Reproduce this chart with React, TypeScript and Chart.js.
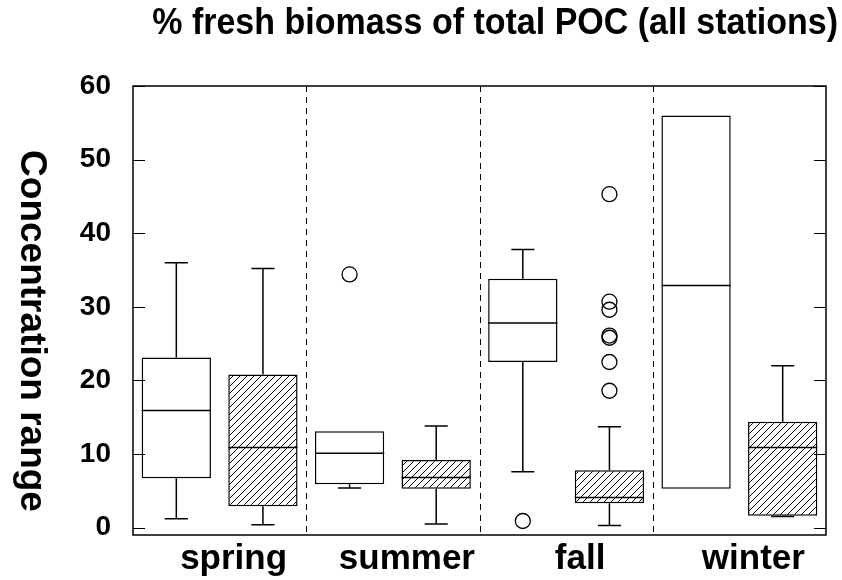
import React, { useEffect, useRef } from "react";
import { Chart, registerables } from "chart.js";

Chart.register(...registerables);

const categories = ["spring", "summer", "fall", "winter"];
const yTickValues = [0, 10, 20, 30, 40, 50, 60];

// open boxes
const openQ1 = [6.7, 5.9, 22.5, 5.3];
const openQ3 = [23.1, 13.1, 33.8, 56.0];
const openMedian = [15.9, 10.1, 27.8, 32.9];
const openLow: (number | null)[] = [1.2, 5.4, 7.6, null];
const openHigh: (number | null)[] = [36.0, null, 37.8, null];
const openOutliers: number[][] = [[], [34.4], [0.9], []];

// hatched boxes
const hatchQ1 = [2.9, 5.3, 3.3, 1.6];
const hatchQ3 = [20.8, 9.2, 7.8, 14.4];
const hatchMedian = [10.9, 6.8, 4.1, 10.9];
const hatchLow: (number | null)[] = [0.4, 0.5, 0.3, 1.5];
const hatchHigh: (number | null)[] = [35.2, 13.8, 13.7, 22.0];
const hatchOutliers: number[][] = [[], [], [45.3, 30.7, 29.6, 26.1, 25.8, 22.5, 18.6], []];

const titleText = "% fresh biomass of total POC (all stations)";
const yTitleText = "Concentration range";
const FONT = "'Liberation Sans', Arial, Helvetica, sans-serif";

const stats = [
  { med: openMedian, low: openLow, high: openHigh, q1: openQ1, q3: openQ3, out: openOutliers },
  { med: hatchMedian, low: hatchLow, high: hatchHigh, q1: hatchQ1, q3: hatchQ3, out: hatchOutliers },
];

function makeHatch(): CanvasPattern | string {
  const s = 7;
  const c = document.createElement("canvas");
  c.width = s;
  c.height = s;
  const g = c.getContext("2d");
  if (!g) return "#fff";
  g.fillStyle = "#fff";
  g.fillRect(0, 0, s, s);
  g.strokeStyle = "#000";
  g.lineWidth = 1;
  g.beginPath();
  g.moveTo(0, s);
  g.lineTo(s, 0);
  g.moveTo(-1, 1);
  g.lineTo(1, -1);
  g.moveTo(s - 1, s + 1);
  g.lineTo(s + 1, s - 1);
  g.stroke();
  return g.createPattern(c, "repeat") || "#fff";
}

const framePlugin = {
  id: "frame",
  beforeDatasetsDraw(chart: any) {
    const { ctx, chartArea: a } = chart;
    const x = chart.scales.x;
    ctx.save();
    ctx.strokeStyle = "#000";
    ctx.lineWidth = 1;
    ctx.setLineDash([6, 5]);
    for (let i = 0; i < categories.length - 1; i++) {
      const px = Math.round((x.getPixelForValue(i) + x.getPixelForValue(i + 1)) / 2) + 0.5;
      ctx.beginPath();
      ctx.moveTo(px, a.top);
      ctx.lineTo(px, a.bottom);
      ctx.stroke();
    }
    ctx.restore();
  },
  afterDatasetsDraw(chart: any) {
    const { ctx, chartArea: a } = chart;
    const y = chart.scales.y;
    ctx.save();
    ctx.strokeStyle = "#000";
    ctx.lineWidth = 1.5;
    ctx.strokeRect(a.left, a.top, a.right - a.left, a.bottom - a.top);
    ctx.lineWidth = 1.2;
    y.ticks.forEach((t: any) => {
      const py = Math.round(y.getPixelForValue(t.value)) + 0.5;
      ctx.beginPath();
      ctx.moveTo(a.left, py);
      ctx.lineTo(a.left + 12, py);
      ctx.moveTo(a.right, py);
      ctx.lineTo(a.right - 12, py);
      ctx.stroke();
    });
    ctx.restore();
  },
  afterDraw(chart: any) {
    const { ctx } = chart;
    ctx.save();
    ctx.fillStyle = "#000";
    ctx.font = `bold 34px ${FONT}`;
    ctx.textAlign = "right";
    ctx.textBaseline = "alphabetic";
    ctx.translate(838, 34);
    ctx.scale(1, 1.08);
    ctx.fillText(titleText, 0, 0);
    ctx.restore();

    ctx.save();
    ctx.fillStyle = "#000";
    ctx.translate(21, 331);
    ctx.rotate(Math.PI / 2);
    ctx.font = `bold 37px ${FONT}`;
    ctx.textAlign = "center";
    ctx.textBaseline = "alphabetic";
    ctx.fillText(yTitleText, 0, 0);
    ctx.restore();
  },
};

const boxPlugin = {
  id: "boxes",
  afterDatasetsDraw(chart: any) {
    const { ctx } = chart;
    const y = chart.scales.y;
    chart.data.datasets.forEach((_ds: any, di: number) => {
      const st = stats[di];
      const meta = chart.getDatasetMeta(di);
      meta.data.forEach((bar: any, i: number) => {
        const { x, width } = bar.getProps(["x", "width"], true);
        const half = width / 2;
        const cap = width / 6;
        ctx.save();
        ctx.strokeStyle = "#000";
        ctx.lineWidth = 1.5;
        const pm = y.getPixelForValue(st.med[i]);
        ctx.beginPath();
        ctx.moveTo(x - half, pm);
        ctx.lineTo(x + half, pm);
        ctx.stroke();
        const hi = st.high[i];
        if (hi !== null) {
          const p3 = y.getPixelForValue(st.q3[i]);
          const ph = y.getPixelForValue(hi);
          ctx.beginPath();
          ctx.moveTo(x, p3);
          ctx.lineTo(x, ph);
          ctx.moveTo(x - cap, ph);
          ctx.lineTo(x + cap, ph);
          ctx.stroke();
        }
        const lo = st.low[i];
        if (lo !== null) {
          const p1 = y.getPixelForValue(st.q1[i]);
          const pl = y.getPixelForValue(lo);
          ctx.beginPath();
          ctx.moveTo(x, p1);
          ctx.lineTo(x, pl);
          ctx.moveTo(x - cap, pl);
          ctx.lineTo(x + cap, pl);
          ctx.stroke();
        }
        ctx.lineWidth = 1.3;
        st.out[i].forEach((v: number) => {
          const py = y.getPixelForValue(v);
          ctx.beginPath();
          ctx.arc(x, py, 7.5, 0, Math.PI * 2);
          ctx.stroke();
        });
        ctx.restore();
      });
    });
  },
};

export default function App() {
  const ref = useRef<HTMLCanvasElement | null>(null);
  useEffect(() => {
    if (!ref.current) return;
    const hatch = makeHatch();
    const chart = new Chart(ref.current, {
      type: "bar",
      data: {
        labels: categories,
        datasets: [
          {
            label: "open",
            data: openQ1.map((v, i) => [v, openQ3[i]]) as any,
            backgroundColor: "#fff",
            borderColor: "#000",
            borderWidth: 1.5,
            borderSkipped: false,
          },
          {
            label: "hatched",
            data: hatchQ1.map((v, i) => [v, hatchQ3[i]]) as any,
            backgroundColor: hatch as any,
            borderColor: "#000",
            borderWidth: 1.5,
            borderSkipped: false,
          },
        ],
      },
      options: {
        responsive: false,
        animation: false,
        devicePixelRatio: 1,
        categoryPercentage: 1.0,
        barPercentage: 0.8,
        layout: { padding: { top: 86, right: 16, left: 0, bottom: 0 } },
        plugins: {
          legend: { display: false },
          tooltip: { enabled: false },
          title: { display: false },
        },
        scales: {
          x: {
            type: "category",
            grid: { display: false, drawTicks: false },
            border: { display: false },
            ticks: {
              color: "#000",
              font: { family: FONT, size: 35, weight: "bold" },
              labelOffset: 14,
              padding: 3,
              maxRotation: 0,
            },
            afterFit: (s: any) => {
              s.height = 45;
            },
          },
          y: {
            type: "linear",
            min: -1,
            max: 60,
            grid: { display: false, drawTicks: false },
            border: { display: false },
            afterBuildTicks: (s: any) => {
              s.ticks = yTickValues.map((v) => ({ value: v }));
            },
            ticks: {
              color: "#000",
              font: { family: FONT, size: 28, weight: "bold" },
              padding: 22,
            },
            afterFit: (s: any) => {
              s.width = 133;
            },
          },
        },
      },
      plugins: [framePlugin, boxPlugin],
    });
    return () => chart.destroy();
  }, []);
  return (
    <div style={{ position: "absolute", left: 0, top: 0, width: 842, height: 580, background: "#fff" }}>
      <canvas ref={ref} width={842} height={580} style={{ width: 842, height: 580, display: "block" }} />
    </div>
  );
}
